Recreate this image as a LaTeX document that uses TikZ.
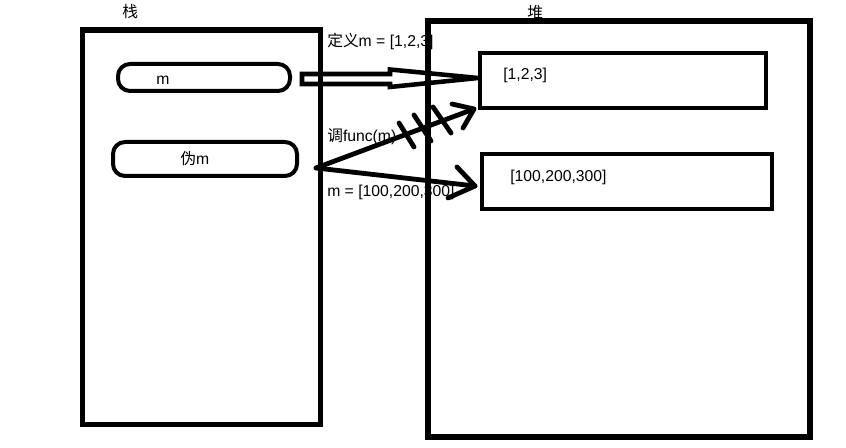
\documentclass[tikz,border=0pt]{standalone}
\usepackage{fontspec}
\setmainfont{Liberation Sans}
\newfontfamily\cjk{Noto Sans CJK SC}
\begin{document}
\begin{tikzpicture}[x=0.75pt,y=-0.75pt,
  bigbox/.style={draw,line width=3.8pt,minimum width=#1,inner sep=0pt,outer sep=0pt},
  valbox/.style={draw,line width=3.2pt,inner sep=0pt,outer sep=0pt},
  varbox/.style={draw,line width=3pt,rounded corners=9pt,inner sep=0pt,outer sep=0pt},
  lbl/.style={anchor=base west,inner sep=0pt,font=\fontsize{11.8pt}{14pt}\selectfont},
  conn/.style={line width=3.6pt,line cap=round,line join=round}]
\useasboundingbox (0,0) rectangle (846,448);
% labels (drawn first, lines go over them)
\node[lbl] (tstack) at (122,18) {\cjk 栈};
\node[lbl] (theap) at (527,19) {\cjk 堆};
\node[lbl] (tdef) at (327,47) {{\cjk 定义}m = [1,2,3]};
\node[lbl] (tcall) at (327,142) {{\cjk 调}func(m)};
\node[lbl] (tassign) at (327,197) {m = [100,200,300]};
% stack and heap
\node[bigbox=238*0.75pt,minimum height=394.5*0.75pt] (stack) at (201.5,227.25) {};
\node[bigbox=382*0.75pt,minimum height=416*0.75pt] (heap) at (619,229) {};
% variables
\node[varbox,minimum width=172*0.75pt,minimum height=27*0.75pt] (m) at (204,77.5) {};
\node[lbl] at (156,85) {m};
\node[varbox,minimum width=184*0.75pt,minimum height=34*0.75pt] (pm) at (205,159) {};
\node[lbl] at (180,165) {{\cjk 伪}m};
% values
\node[valbox,minimum width=286*0.75pt,minimum height=55*0.75pt] (v1) at (623,80.5) {};
\node[lbl] at (503,80) {[1,2,3]};
\node[valbox,minimum width=290*0.75pt,minimum height=55*0.75pt] (v2) at (627,181.5) {};
\node[lbl] at (510,182) {[100,200,300]};
% hollow arrow m -> [1,2,3]
\coordinate (ha) at (302,79);
\coordinate (hb) at (478,78);
\draw[line width=3.4pt,line join=miter] (ha) ++(0,-5) -- (390,74) -- (390,69.5) -- (hb) -- (390,87) -- (390,84) -- (302,84) -- cycle;
% fork from fake m
\coordinate (fork) at (316,168);
\coordinate (tip1) at (474,109);
\coordinate (tip2) at (475,186);
\draw[conn] (fork) -- (tip1);
\draw[conn] (452,104) -- (tip1) -- (463,128);
\draw[conn] (fork) -- (tip2);
\draw[conn] (457,167) -- (tip2) -- (448,198);
% crossing-out strokes
\draw[conn] (399,123) -- (414,147);
\draw[conn] (414,115) -- (431,141);
\draw[conn] (433,107) -- (451,133);
\end{tikzpicture}
\end{document}
